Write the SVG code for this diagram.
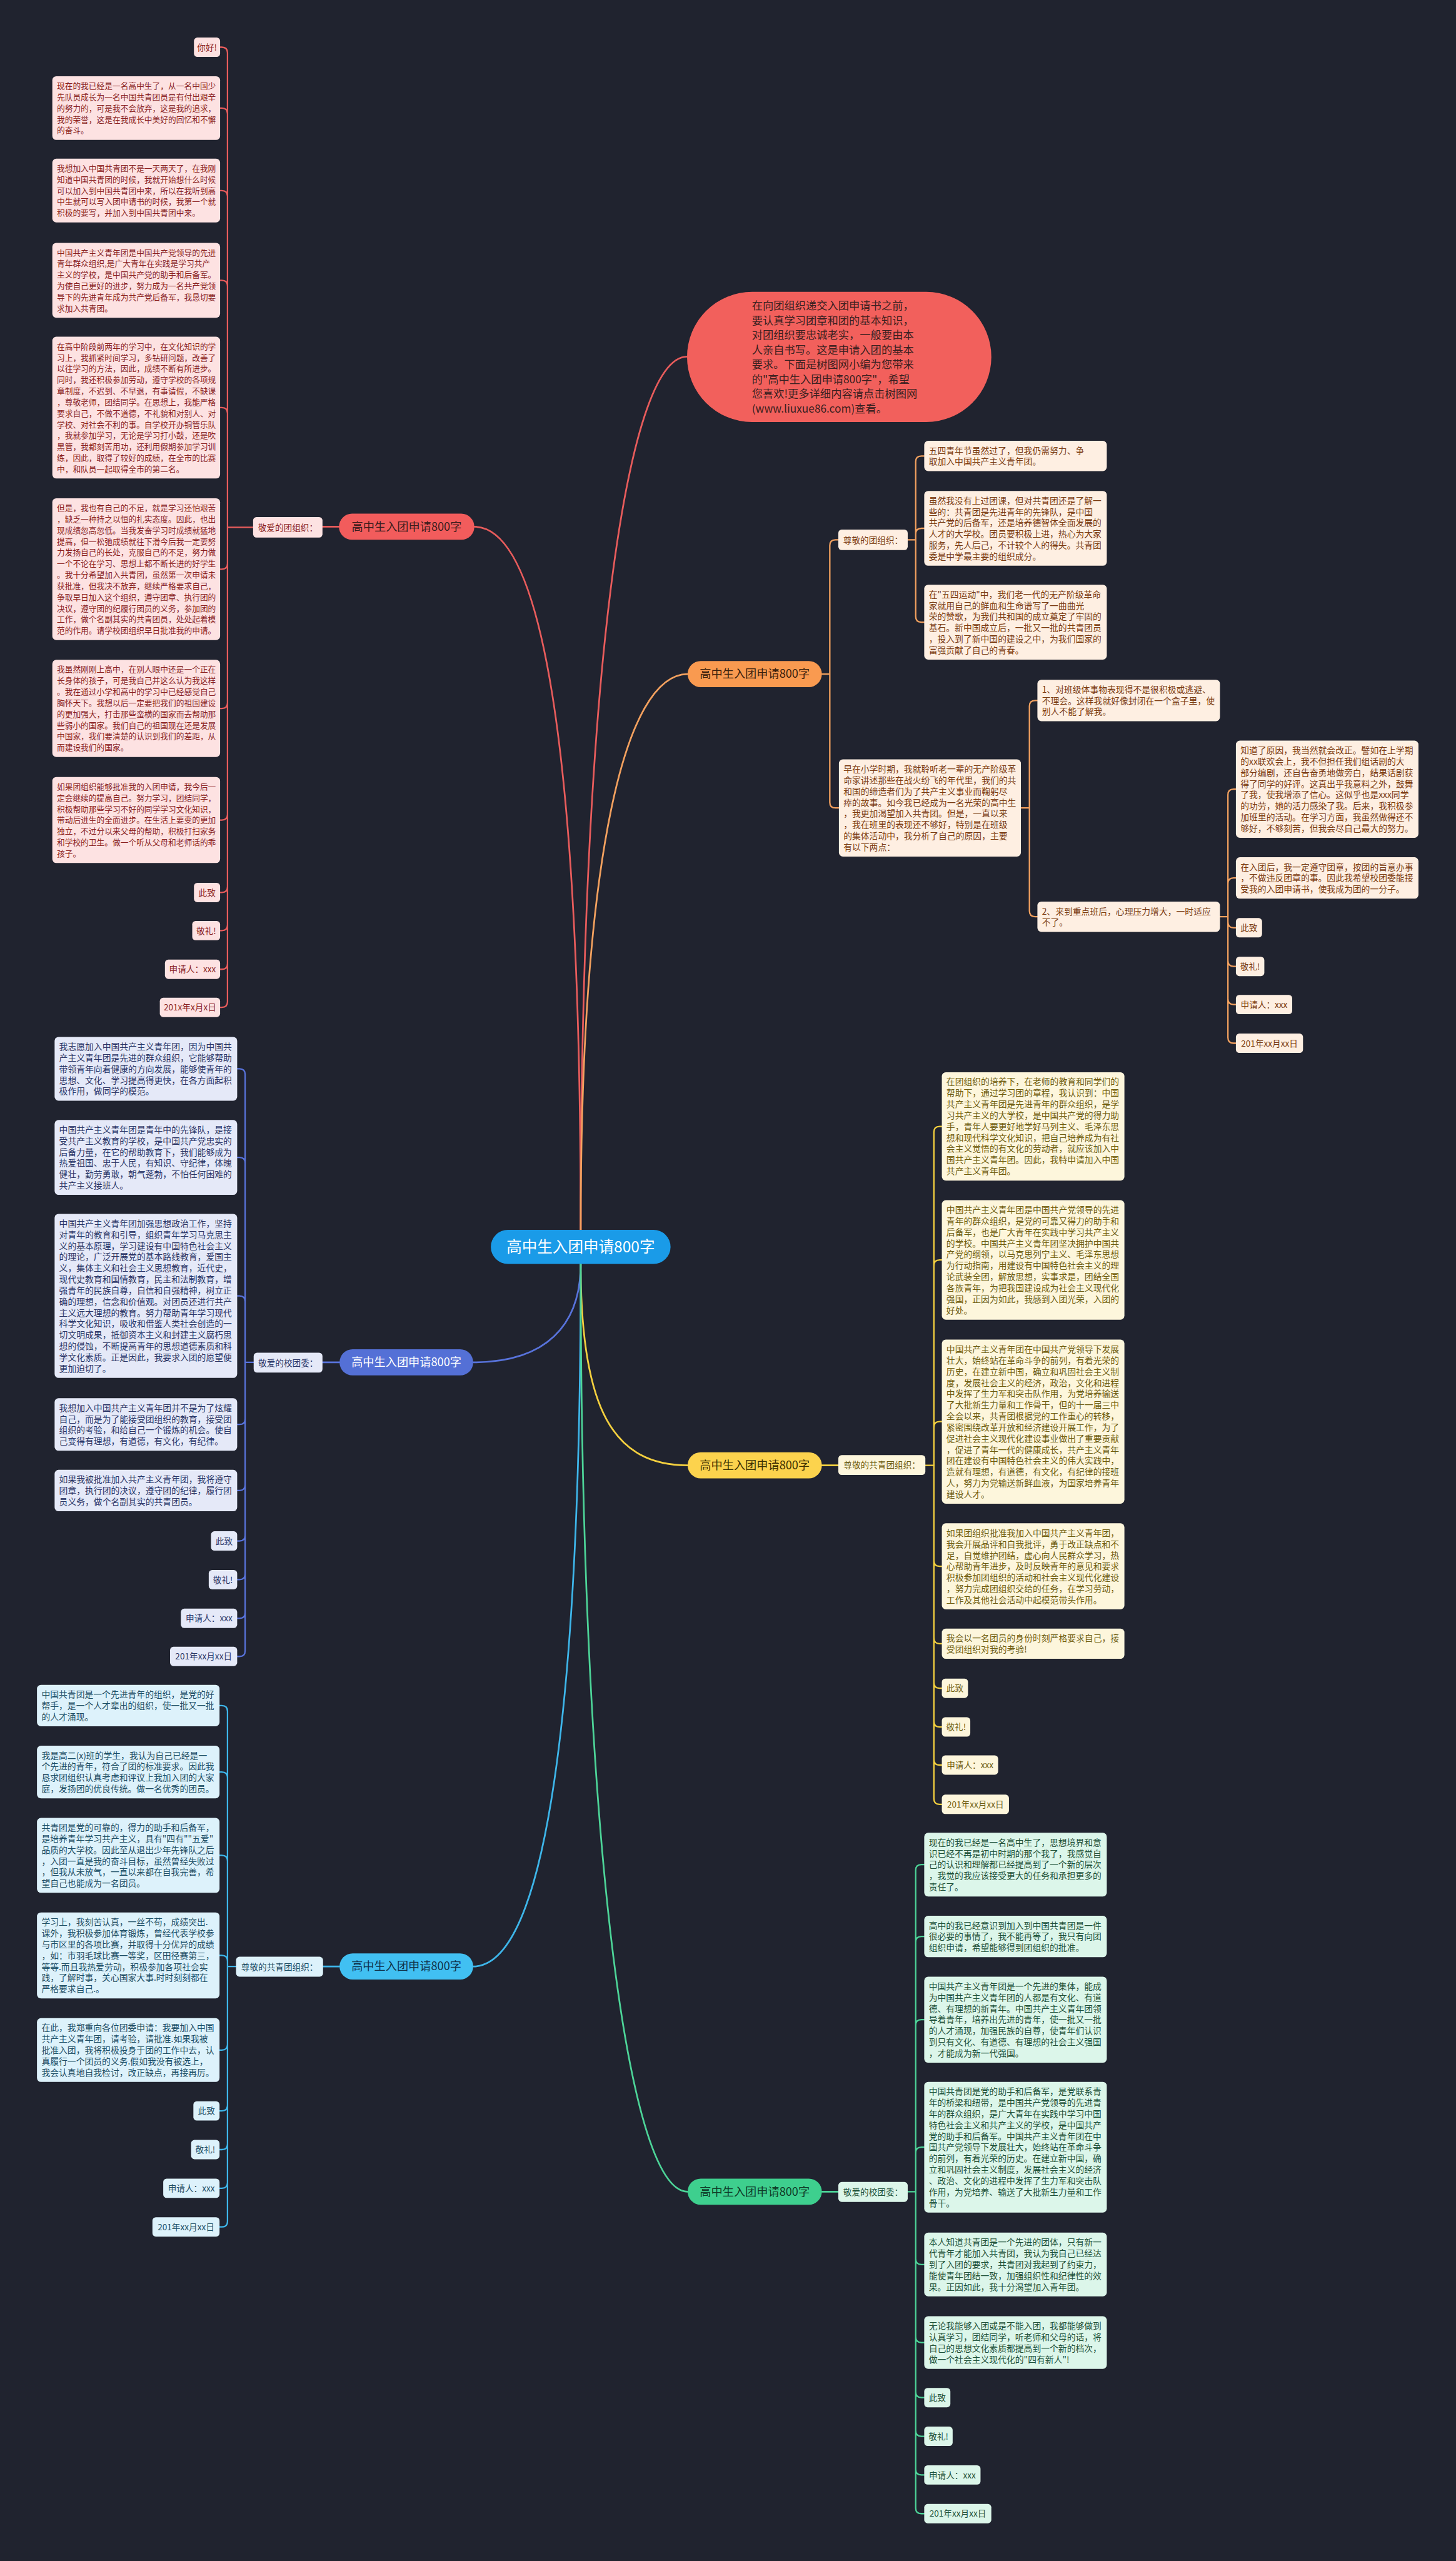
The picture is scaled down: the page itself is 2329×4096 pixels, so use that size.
<svg xmlns="http://www.w3.org/2000/svg" width="2329" height="4096" viewBox="0 0 2329 4096">
<style>
.t{font-family:"Noto Sans CJK SC","Noto Sans",sans-serif}
.p{font-size:15.2px}
.pr{font-size:14px}
.s{font-size:15px}
.m{text-anchor:middle}
.pl{font-size:20px;text-anchor:middle}
.ln{fill:none;stroke-width:2.5;stroke-linecap:round;stroke-linejoin:round}
.l1{fill:none;stroke-width:3;stroke-linecap:round}
.rf{fill:#fde2e2}.rt{fill:#8a1f1f}.rs{stroke:#e85c5c}
.of{fill:#feefe2}.ot{fill:#7a3a10}.os{stroke:#f3a15f}
.bf{fill:#e5e9f8}.bt{fill:#2a3566}.bs{stroke:#5873db}
.yf{fill:#fdf6dc}.yt{fill:#6e5c0e}.ys{stroke:#f4d03f}
.cf{fill:#ddf2fb}.ct{fill:#1c4d64}.cs{stroke:#3eb6ea}
.gf{fill:#dcf6ea}.gt{fill:#1d5038}.gs{stroke:#4dd498}
</style>
<rect x="0" y="0" width="2329" height="4096" fill="#20232f"/>
<g transform="scale(0.909766)">
<g id="connectors">
<path class="l1 rs" d="M1021 2162C1021 1200 1100 627 1208 627"/>
<path class="l1 rs" d="M1021 2162C1021 1300 950 926 834 926M596 926H567"/>
<path class="l1 os" d="M1021 2162C1021 1500 1100 1185 1209 1185"/>
<path class="l1 bs" d="M1021 2222C1021 2330 960 2395 832 2395M597 2395H567"/>
<path class="l1 ys" d="M1021 2222C1021 2480 1080 2576 1209 2576M1445 2576H1474"/>
<path class="l1 cs" d="M1021 2222C1021 3000 960 3457 832 3457M597 3457H568"/>
<path class="l1 gs" d="M1021 2222C1021 3200 1100 3853 1209 3853M1445 3853H1474"/>
<path class="ln rs" d="M445 927H400V93Q400 83 390 83H387M400 927V200Q400 190 390 190H387M400 927V345Q400 335 390 335H387M400 927V502.8Q400 492.8 390 492.8H387M400 927V726.6Q400 716.6 390 716.6H387M400 927V990.6Q400 1000.6 390 1000.6H387M400 927V1235.4Q400 1245.4 390 1245.4H387M400 927V1431.6Q400 1441.6 390 1441.6H387M400 927V1559Q400 1569 390 1569H387M400 927V1626Q400 1636 390 1636H387M400 927V1694Q400 1704 390 1704H387M400 927V1761Q400 1771 390 1771H387"/>
<path class="ln bs" d="M446 2395H431V1889Q431 1879 421 1879H417M431 2395V2044.8Q431 2034.8 421 2034.8H417M431 2395V2288.2Q431 2278.2 421 2278.2H417M431 2395V2494.2Q431 2504.2 421 2504.2H417M431 2395V2610.4Q431 2620.4 421 2620.4H417M431 2395V2699Q431 2709 421 2709H417M431 2395V2767Q431 2777 421 2777H417M431 2395V2835Q431 2845 421 2845H417M431 2395V2902Q431 2912 421 2912H417"/>
<path class="ln cs" d="M415 3457H400V3008.4Q400 2998.4 390 2998.4H386M400 3457V3125.2Q400 3115.2 390 3115.2H386M400 3457V3271.8Q400 3261.8 390 3261.8H386M400 3457V3447.6Q400 3437.6 390 3437.6H386M400 3457V3594Q400 3604 390 3604H386M400 3457V3701Q400 3711 390 3711H386M400 3457V3769Q400 3779 390 3779H386M400 3457V3837Q400 3847 390 3847H386M400 3457V3905Q400 3915 390 3915H386"/>
<path class="ln ys" d="M1627 2576H1642V1990.2Q1642 1980.2 1652 1980.2H1656M1642 2576V2225Q1642 2215 1652 2215H1656M1642 2576V2509.2Q1642 2499.2 1652 2499.2H1656M1642 2576V2743.6Q1642 2753.6 1652 2753.6H1656M1642 2576V2879.6Q1642 2889.6 1652 2889.6H1656M1642 2576V2958Q1642 2968 1652 2968H1656M1642 2576V3026Q1642 3036 1652 3036H1656M1642 2576V3093Q1642 3103 1652 3103H1656M1642 2576V3162Q1642 3172 1652 3172H1656"/>
<path class="ln gs" d="M1596 3853H1610V3288Q1610 3278 1620 3278H1625M1610 3853V3414.4Q1610 3404.4 1620 3404.4H1625M1610 3853V3560.6Q1610 3550.6 1620 3550.6H1625M1610 3853V3784.8Q1610 3774.8 1620 3774.8H1625M1610 3853V3971Q1610 3981 1620 3981H1625M1610 3853V4108.2Q1610 4118.2 1620 4118.2H1625M1610 3853V4205Q1610 4215 1620 4215H1625M1610 3853V4273Q1610 4283 1620 4283H1625M1610 3853V4341Q1610 4351 1620 4351H1625M1610 3853V4409Q1610 4419 1620 4419H1625"/>
<path class="ln os" d="M1445 1185H1459V959Q1459 949 1469 949H1474M1459 1185V1410.4Q1459 1420.4 1469 1420.4H1475M1596 949H1610V811.6Q1610 801.6 1620 801.6H1625M1610 949V938.8Q1610 928.8 1620 928.8H1625M1610 949V1083.8Q1610 1093.8 1620 1093.8H1625M1795 1420.4H1810V1241.4Q1810 1231.4 1820 1231.4H1824M1810 1420.4V1601.6Q1810 1611.6 1820 1611.6H1824M2145 1611.6H2159V1397.4Q2159 1387.4 2169 1387.4H2173M2159 1611.6V1553.4Q2159 1543.4 2169 1543.4H2173M2159 1611.6V1621Q2159 1631 2169 1631H2173M2159 1611.6V1689Q2159 1699 2169 1699H2173M2159 1611.6V1756Q2159 1766 2169 1766H2173M2159 1611.6V1824Q2159 1834 2169 1834H2173"/>
</g>

<g id="central"><rect x="863" y="2162" width="316" height="60" rx="30" fill="#1a9be8"/><text class="t m" x="1021" y="2202" font-size="27" fill="#ffffff">高中生入团申请800字</text></g>

<g id="intro"><rect x="1208" y="513" width="535" height="229" rx="114.5" fill="#f2605c"/>
<text class="t" x="1322" y="544.2" font-size="19" fill="#3a2020"><tspan x="1322">在向团组织递交入团申请书之前，</tspan><tspan x="1322" dy="25.9">要认真学习团章和团的基本知识，</tspan><tspan x="1322" dy="25.9">对团组织要忠诚老实，一般要由本</tspan><tspan x="1322" dy="25.9">人亲自书写。这是申请入团的基本</tspan><tspan x="1322" dy="25.9">要求。下面是树图网小编为您带来</tspan><tspan x="1322" dy="25.9">的"高中生入团申请800字"，希望</tspan><tspan x="1322" dy="25.9">您喜欢!更多详细内容请点击树图网</tspan><tspan x="1322" dy="25.9">(www.liuxue86.com)查看。</tspan></text></g>

<!-- RED BRANCH -->
<g id="red-main"><rect x="596" y="903" width="238" height="46" rx="23" fill="#f25c5c"/><text class="t pl" x="715" y="933" fill="#3a1c1c">高中生入团申请800字</text></g>
<g id="red-label"><rect class="rf" x="445" y="909" width="122" height="36" rx="6"/><text class="t s m rt" x="506" y="932.7">敬爱的团组织：</text></g>
<g id="red-1"><rect class="rf" x="341" y="66" width="46" height="34" rx="6"/><text class="t s m rt" x="364" y="88.7">你好!</text></g>
<g id="red-2"><rect class="rf" x="92" y="134" width="295" height="112" rx="7"/><text class="t pr rt" x="100" y="156.1"><tspan x="100">现在的我已经是一名高中生了，从一名中国少</tspan><tspan x="100" dy="19.6">先队员成长为一名中国共青团员是有付出艰辛</tspan><tspan x="100" dy="19.6">的努力的，可是我不会放弃，这是我的追求，</tspan><tspan x="100" dy="19.6">我的荣誉，这是在我成长中美好的回忆和不懈</tspan><tspan x="100" dy="19.6">的奋斗。</tspan></text></g>
<g id="red-3"><rect class="rf" x="92" y="279" width="295" height="112" rx="7"/><text class="t pr rt" x="100" y="301.1"><tspan x="100">我想加入中国共青团不是一天两天了，在我刚</tspan><tspan x="100" dy="19.6">知道中国共青团的时候，我就开始想什么时候</tspan><tspan x="100" dy="19.6">可以加入到中国共青团中来，所以在我听到高</tspan><tspan x="100" dy="19.6">中生就可以写入团申请书的时候，我第一个就</tspan><tspan x="100" dy="19.6">积极的要写，并加入到中国共青团中来。</tspan></text></g>
<g id="red-4"><rect class="rf" x="92" y="427" width="295" height="131.6" rx="7"/><text class="t pr rt" x="100" y="449.1"><tspan x="100">中国共产主义青年团是中国共产党领导的先进</tspan><tspan x="100" dy="19.6">青年群众组织,是广大青年在实践是学习共产</tspan><tspan x="100" dy="19.6">主义的学校，是中国共产党的助手和后备军。</tspan><tspan x="100" dy="19.6">为使自己更好的进步，努力成为一名共产党领</tspan><tspan x="100" dy="19.6">导下的先进青年成为共产党后备军，我恳切要</tspan><tspan x="100" dy="19.6">求加入共青团。</tspan></text></g>
<g id="red-5"><rect class="rf" x="92" y="592" width="295" height="249.2" rx="7"/><text class="t pr rt" x="100" y="614.1"><tspan x="100">在高中阶段前两年的学习中，在文化知识的学</tspan><tspan x="100" dy="19.6">习上，我抓紧时间学习，多钻研问题，改善了</tspan><tspan x="100" dy="19.6">以往学习的方法，因此，成绩不断有所进步。</tspan><tspan x="100" dy="19.6">同时，我还积极参加劳动，遵守学校的各项规</tspan><tspan x="100" dy="19.6">章制度，不迟到、不早退，有事请假，不缺课</tspan><tspan x="100" dy="19.6">，尊敬老师，团结同学。在思想上，我能严格</tspan><tspan x="100" dy="19.6">要求自己，不做不道德，不礼貌和对别人、对</tspan><tspan x="100" dy="19.6">学校、对社会不利的事。自学校开办铜管乐队</tspan><tspan x="100" dy="19.6">，我就参加学习，无论是学习打小鼓，还是吹</tspan><tspan x="100" dy="19.6">黑管，我都刻苦用功，还利用假期参加学习训</tspan><tspan x="100" dy="19.6">练，因此，取得了较好的成绩，在全市的比赛</tspan><tspan x="100" dy="19.6">中，和队员一起取得全市的第二名。</tspan></text></g>
<g id="red-6"><rect class="rf" x="92" y="876" width="295" height="249.2" rx="7"/><text class="t pr rt" x="100" y="898.1"><tspan x="100">但是，我也有自己的不足，就是学习还怕艰苦</tspan><tspan x="100" dy="19.6">，缺乏一种持之以恒的扎实态度。因此，也出</tspan><tspan x="100" dy="19.6">现成绩忽高忽低。当我发奋学习时成绩就猛地</tspan><tspan x="100" dy="19.6">提高，但一松弛成绩就往下滑今后我一定要努</tspan><tspan x="100" dy="19.6">力发扬自己的长处，克服自己的不足，努力做</tspan><tspan x="100" dy="19.6">一个不论在学习、思想上都不断长进的好学生</tspan><tspan x="100" dy="19.6">。我十分希望加入共青团，虽然第一次申请未</tspan><tspan x="100" dy="19.6">获批准，但我决不放弃，继续严格要求自己，</tspan><tspan x="100" dy="19.6">争取早日加入这个组织，遵守团章、执行团的</tspan><tspan x="100" dy="19.6">决议，遵守团的纪履行团员的义务，参加团的</tspan><tspan x="100" dy="19.6">工作，做个名副其实的共青团员，处处起着模</tspan><tspan x="100" dy="19.6">范的作用。请学校团组织早日批准我的申请。</tspan></text></g>
<g id="red-7"><rect class="rf" x="92" y="1160" width="295" height="170.8" rx="7"/><text class="t pr rt" x="100" y="1182.1"><tspan x="100">我虽然刚刚上高中，在别人眼中还是一个正在</tspan><tspan x="100" dy="19.6">长身体的孩子，可是我自己并这么认为我这样</tspan><tspan x="100" dy="19.6">。我在通过小学和高中的学习中已经感觉自己</tspan><tspan x="100" dy="19.6">胸怀天下。我想以后一定要把我们的祖国建设</tspan><tspan x="100" dy="19.6">的更加强大，打击那些蛮横的国家而去帮助那</tspan><tspan x="100" dy="19.6">些弱小的国家。我们自己的祖国现在还是发展</tspan><tspan x="100" dy="19.6">中国家，我们要清楚的认识到我们的差距，从</tspan><tspan x="100" dy="19.6">而建设我们的国家。</tspan></text></g>
<g id="red-8"><rect class="rf" x="92" y="1366" width="295" height="151.2" rx="7"/><text class="t pr rt" x="100" y="1388.1"><tspan x="100">如果团组织能够批准我的入团申请，我今后一</tspan><tspan x="100" dy="19.6">定会继续的提高自己。努力学习，团结同学，</tspan><tspan x="100" dy="19.6">积极帮助那些学习不好的同学学习文化知识，</tspan><tspan x="100" dy="19.6">带动后进生的全面进步。在生活上要变的更加</tspan><tspan x="100" dy="19.6">独立，不过分以来父母的帮助，积极打扫家务</tspan><tspan x="100" dy="19.6">和学校的卫生。做一个听从父母和老师话的乖</tspan><tspan x="100" dy="19.6">孩子。</tspan></text></g>
<g id="red-9"><rect class="rf" x="341" y="1552" width="46" height="34" rx="6"/><text class="t s m rt" x="364" y="1574.7">此致</text></g>
<g id="red-10"><rect class="rf" x="338" y="1619" width="49" height="34" rx="6"/><text class="t s m rt" x="362.5" y="1641.7">敬礼!</text></g>
<g id="red-11"><rect class="rf" x="290" y="1687" width="97" height="34" rx="6"/><text class="t s m rt" x="338.5" y="1709.7">申请人：xxx</text></g>
<g id="red-12"><rect class="rf" x="281" y="1754" width="106" height="34" rx="6"/><text class="t s m rt" x="334" y="1776.7">201x年x月x日</text></g>

<!-- ORANGE BRANCH -->
<g id="orange-main"><rect x="1209" y="1162" width="236" height="46" rx="23" fill="#f99a50"/><text class="t pl" x="1327" y="1192" fill="#3a200c">高中生入团申请800字</text></g>
<g id="orange-label"><rect class="of" x="1474" y="931" width="122" height="36" rx="6"/><text class="t s m ot" x="1535" y="954.7">尊敬的团组织：</text></g>
<g id="orange-1"><rect class="of" x="1625" y="775" width="321" height="53.2" rx="7"/><text class="t p ot" x="1633" y="797.6"><tspan x="1633">五四青年节虽然过了，但我仍需努力、争</tspan><tspan x="1633" dy="19.6">取加入中国共产主义青年团。</tspan></text></g>
<g id="orange-2"><rect class="of" x="1625" y="863" width="321" height="131.6" rx="7"/><text class="t p ot" x="1633" y="885.6"><tspan x="1633">虽然我没有上过团课，但对共青团还是了解一</tspan><tspan x="1633" dy="19.6">些的：共青团是先进青年的先锋队，是中国</tspan><tspan x="1633" dy="19.6">共产党的后备军，还是培养德智体全面发展的</tspan><tspan x="1633" dy="19.6">人才的大学校。团员要积极上进，热心为大家</tspan><tspan x="1633" dy="19.6">服务，先人后己，不计较个人的得失。共青团</tspan><tspan x="1633" dy="19.6">委是中学最主要的组织成分。</tspan></text></g>
<g id="orange-3"><rect class="of" x="1625" y="1028" width="321" height="131.6" rx="7"/><text class="t p ot" x="1633" y="1050.6"><tspan x="1633">在"五四运动"中，我们老一代的无产阶级革命</tspan><tspan x="1633" dy="19.6">家就用自己的鲜血和生命谱写了一曲曲光</tspan><tspan x="1633" dy="19.6">荣的赞歌，为我们共和国的成立奠定了牢固的</tspan><tspan x="1633" dy="19.6">基石。新中国成立后，一批又一批的共青团员</tspan><tspan x="1633" dy="19.6">，投入到了新中国的建设之中，为我们国家的</tspan><tspan x="1633" dy="19.6">富强贡献了自己的青春。</tspan></text></g>
<g id="orange-4"><rect class="of" x="1475" y="1335" width="320" height="170.8" rx="7"/><text class="t p ot" x="1483" y="1357.6"><tspan x="1483">早在小学时期，我就聆听老一辈的无产阶级革</tspan><tspan x="1483" dy="19.6">命家讲述那些在战火纷飞的年代里，我们的共</tspan><tspan x="1483" dy="19.6">和国的缔造者们为了共产主义事业而鞠躬尽</tspan><tspan x="1483" dy="19.6">瘁的故事。如今我已经成为一名光荣的高中生</tspan><tspan x="1483" dy="19.6">，我更加渴望加入共青团。但是，一直以来</tspan><tspan x="1483" dy="19.6">，我在班里的表现还不够好，特别是在班级</tspan><tspan x="1483" dy="19.6">的集体活动中，我分析了自己的原因，主要</tspan><tspan x="1483" dy="19.6">有以下两点：</tspan></text></g>
<g id="orange-5"><rect class="of" x="1824" y="1195" width="321" height="72.8" rx="7"/><text class="t p ot" x="1832" y="1217.6"><tspan x="1832">1、对班级体事物表现得不是很积极或逃避、</tspan><tspan x="1832" dy="19.6">不理会。这样我就好像封闭在一个盒子里，使</tspan><tspan x="1832" dy="19.6">别人不能了解我。</tspan></text></g>
<g id="orange-6"><rect class="of" x="1824" y="1585" width="321" height="53.2" rx="7"/><text class="t p ot" x="1832" y="1607.6"><tspan x="1832">2、来到重点班后，心理压力增大，一时适应</tspan><tspan x="1832" dy="19.6">不了。</tspan></text></g>
<g id="orange-7"><rect class="of" x="2173" y="1302" width="321" height="170.8" rx="7"/><text class="t p ot" x="2181" y="1324.6"><tspan x="2181">知道了原因，我当然就会改正。譬如在上学期</tspan><tspan x="2181" dy="19.6">的xx联欢会上，我不但担任我们组话剧的大</tspan><tspan x="2181" dy="19.6">部分编剧，还自告奋勇地做旁白，结果话剧获</tspan><tspan x="2181" dy="19.6">得了同学的好评。这真出乎我意料之外，鼓舞</tspan><tspan x="2181" dy="19.6">了我，使我增添了信心。这似乎也是xxx同学</tspan><tspan x="2181" dy="19.6">的功劳，她的活力感染了我。后来，我积极参</tspan><tspan x="2181" dy="19.6">加班里的活动。在学习方面，我虽然做得还不</tspan><tspan x="2181" dy="19.6">够好，不够刻苦，但我会尽自己最大的努力。</tspan></text></g>
<g id="orange-8"><rect class="of" x="2173" y="1507" width="321" height="72.8" rx="7"/><text class="t p ot" x="2181" y="1529.6"><tspan x="2181">在入团后，我一定遵守团章，按团的旨意办事</tspan><tspan x="2181" dy="19.6">，不做违反团章的事。因此我希望校团委能接</tspan><tspan x="2181" dy="19.6">受我的入团申请书，使我成为团的一分子。</tspan></text></g>
<g id="orange-9"><rect class="of" x="2173" y="1614" width="46" height="34" rx="6"/><text class="t s m ot" x="2196" y="1636.7">此致</text></g>
<g id="orange-10"><rect class="of" x="2173" y="1682" width="50" height="34" rx="6"/><text class="t s m ot" x="2198" y="1704.7">敬礼!</text></g>
<g id="orange-11"><rect class="of" x="2173" y="1749" width="99" height="34" rx="6"/><text class="t s m ot" x="2222.5" y="1771.7">申请人：xxx</text></g>
<g id="orange-12"><rect class="of" x="2173" y="1817" width="118" height="34" rx="6"/><text class="t s m ot" x="2232" y="1839.7">201年xx月xx日</text></g>

<!-- BLUE BRANCH -->
<g id="blue-main"><rect x="597" y="2372" width="235" height="46" rx="23" fill="#5470d6"/><text class="t pl" x="714.5" y="2402" fill="#ffffff">高中生入团申请800字</text></g>
<g id="blue-label"><rect class="bf" x="446" y="2378" width="121" height="35" rx="6"/><text class="t s m bt" x="506.5" y="2401.2">敬爱的校团委：</text></g>
<g id="blue-1"><rect class="bf" x="96" y="1823" width="321" height="112" rx="7"/><text class="t p bt" x="104" y="1845.6"><tspan x="104">我志愿加入中国共产主义青年团，因为中国共</tspan><tspan x="104" dy="19.6">产主义青年团是先进的群众组织，它能够帮助</tspan><tspan x="104" dy="19.6">带领青年向着健康的方向发展，能够使青年的</tspan><tspan x="104" dy="19.6">思想、文化、学习提高得更快，在各方面起积</tspan><tspan x="104" dy="19.6">极作用，做同学的模范。</tspan></text></g>
<g id="blue-2"><rect class="bf" x="96" y="1969" width="321" height="131.6" rx="7"/><text class="t p bt" x="104" y="1991.6"><tspan x="104">中国共产主义青年团是青年中的先锋队，是接</tspan><tspan x="104" dy="19.6">受共产主义教育的学校，是中国共产党忠实的</tspan><tspan x="104" dy="19.6">后备力量，在它的帮助教育下，我们能够成为</tspan><tspan x="104" dy="19.6">热爱祖国、忠于人民，有知识、守纪律，体魄</tspan><tspan x="104" dy="19.6">健壮，勤劳勇敢，朝气蓬勃，不怕任何困难的</tspan><tspan x="104" dy="19.6">共产主义接班人。</tspan></text></g>
<g id="blue-3"><rect class="bf" x="96" y="2134" width="321" height="288.4" rx="7"/><text class="t p bt" x="104" y="2156.6"><tspan x="104">中国共产主义青年团加强思想政治工作，坚持</tspan><tspan x="104" dy="19.6">对青年的教育和引导，组织青年学习马克思主</tspan><tspan x="104" dy="19.6">义的基本原理，学习建设有中国特色社会主义</tspan><tspan x="104" dy="19.6">的理论，广泛开展党的基本路线教育，爱国主</tspan><tspan x="104" dy="19.6">义，集体主义和社会主义思想教育，近代史，</tspan><tspan x="104" dy="19.6">现代史教育和国情教育，民主和法制教育，增</tspan><tspan x="104" dy="19.6">强青年的民族自尊，自信和自强精神，树立正</tspan><tspan x="104" dy="19.6">确的理想，信念和价值观。对团员还进行共产</tspan><tspan x="104" dy="19.6">主义远大理想的教育。努力帮助青年学习现代</tspan><tspan x="104" dy="19.6">科学文化知识，吸收和借鉴人类社会创造的一</tspan><tspan x="104" dy="19.6">切文明成果，抵御资本主义和封建主义腐朽思</tspan><tspan x="104" dy="19.6">想的侵蚀，不断提高青年的思想道德素质和科</tspan><tspan x="104" dy="19.6">学文化素质。正是因此，我要求入团的愿望便</tspan><tspan x="104" dy="19.6">更加迫切了。</tspan></text></g>
<g id="blue-4"><rect class="bf" x="96" y="2458" width="321" height="92.4" rx="7"/><text class="t p bt" x="104" y="2480.6"><tspan x="104">我想加入中国共产主义青年团并不是为了炫耀</tspan><tspan x="104" dy="19.6">自己，而是为了能接受团组织的教育，接受团</tspan><tspan x="104" dy="19.6">组织的考验，和给自己一个锻炼的机会。使自</tspan><tspan x="104" dy="19.6">己变得有理想，有道德，有文化，有纪律。</tspan></text></g>
<g id="blue-5"><rect class="bf" x="96" y="2584" width="321" height="72.8" rx="7"/><text class="t p bt" x="104" y="2606.6"><tspan x="104">如果我被批准加入共产主义青年团，我将遵守</tspan><tspan x="104" dy="19.6">团章，执行团的决议，遵守团的纪律，履行团</tspan><tspan x="104" dy="19.6">员义务，做个名副其实的共青团员。</tspan></text></g>
<g id="blue-6"><rect class="bf" x="371" y="2692" width="46" height="34" rx="6"/><text class="t s m bt" x="394" y="2714.7">此致</text></g>
<g id="blue-7"><rect class="bf" x="367" y="2760" width="50" height="34" rx="6"/><text class="t s m bt" x="392" y="2782.7">敬礼!</text></g>
<g id="blue-8"><rect class="bf" x="318" y="2828" width="99" height="34" rx="6"/><text class="t s m bt" x="367.5" y="2850.7">申请人：xxx</text></g>
<g id="blue-9"><rect class="bf" x="299" y="2895" width="118" height="34" rx="6"/><text class="t s m bt" x="358" y="2917.7">201年xx月xx日</text></g>

<!-- YELLOW BRANCH -->
<g id="yellow-main"><rect x="1209" y="2553" width="236" height="46" rx="23" fill="#fcd34d"/><text class="t pl" x="1327" y="2583" fill="#3d3000">高中生入团申请800字</text></g>
<g id="yellow-label"><rect class="yf" x="1474" y="2558" width="153" height="35" rx="6"/><text class="t s m yt" x="1550.5" y="2581.2">尊敬的共青团组织：</text></g>
<g id="yellow-1"><rect class="yf" x="1656" y="1885" width="321" height="190.4" rx="7"/><text class="t p yt" x="1664" y="1907.6"><tspan x="1664">在团组织的培养下，在老师的教育和同学们的</tspan><tspan x="1664" dy="19.6">帮助下，通过学习团的章程，我认识到：中国</tspan><tspan x="1664" dy="19.6">共产主义青年团是先进青年的群众组织，是学</tspan><tspan x="1664" dy="19.6">习共产主义的大学校，是中国共产党的得力助</tspan><tspan x="1664" dy="19.6">手，青年人要更好地学好马列主义、毛泽东思</tspan><tspan x="1664" dy="19.6">想和现代科学文化知识，把自己培养成为有社</tspan><tspan x="1664" dy="19.6">会主义觉悟的有文化的劳动者，就应该加入中</tspan><tspan x="1664" dy="19.6">国共产主义青年团。因此，我特申请加入中国</tspan><tspan x="1664" dy="19.6">共产主义青年团。</tspan></text></g>
<g id="yellow-2"><rect class="yf" x="1656" y="2110" width="321" height="210" rx="7"/><text class="t p yt" x="1664" y="2132.6"><tspan x="1664">中国共产主义青年团是中国共产党领导的先进</tspan><tspan x="1664" dy="19.6">青年的群众组织，是党的可靠又得力的助手和</tspan><tspan x="1664" dy="19.6">后备军，也是广大青年在实践中学习共产主义</tspan><tspan x="1664" dy="19.6">的学校。中国共产主义青年团坚决拥护中国共</tspan><tspan x="1664" dy="19.6">产党的纲领，以马克思列宁主义、毛泽东思想</tspan><tspan x="1664" dy="19.6">为行动指南，用建设有中国特色社会主义的理</tspan><tspan x="1664" dy="19.6">论武装全团，解放思想，实事求是，团结全国</tspan><tspan x="1664" dy="19.6">各族青年，为把我国建设成为社会主义现代化</tspan><tspan x="1664" dy="19.6">强国，正因为如此，我感到入团光荣，入团的</tspan><tspan x="1664" dy="19.6">好处。</tspan></text></g>
<g id="yellow-3"><rect class="yf" x="1656" y="2355" width="321" height="288.4" rx="7"/><text class="t p yt" x="1664" y="2377.6"><tspan x="1664">中国共产主义青年团在中国共产党领导下发展</tspan><tspan x="1664" dy="19.6">壮大，始终站在革命斗争的前列，有着光荣的</tspan><tspan x="1664" dy="19.6">历史，在建立新中国，确立和巩固社会主义制</tspan><tspan x="1664" dy="19.6">度，发展社会主义的经济，政治，文化和进程</tspan><tspan x="1664" dy="19.6">中发挥了生力军和突击队作用，为党培养输送</tspan><tspan x="1664" dy="19.6">了大批新生力量和工作骨干，但的十一届三中</tspan><tspan x="1664" dy="19.6">全会以来，共青团根据党的工作重心的转移，</tspan><tspan x="1664" dy="19.6">紧密围绕改革开放和经济建设开展工作，为了</tspan><tspan x="1664" dy="19.6">促进社会主义现代化建设事业做出了重要贡献</tspan><tspan x="1664" dy="19.6">，促进了青年一代的健康成长，共产主义青年</tspan><tspan x="1664" dy="19.6">团在建设有中国特色社会主义的伟大实践中，</tspan><tspan x="1664" dy="19.6">造就有理想，有道德，有文化，有纪律的接班</tspan><tspan x="1664" dy="19.6">人，努力为党输送新鲜血液，为国家培养青年</tspan><tspan x="1664" dy="19.6">建设人才。</tspan></text></g>
<g id="yellow-4"><rect class="yf" x="1656" y="2678" width="321" height="151.2" rx="7"/><text class="t p yt" x="1664" y="2700.6"><tspan x="1664">如果团组织批准我加入中国共产主义青年团，</tspan><tspan x="1664" dy="19.6">我会开展品评和自我批评，勇于改正缺点和不</tspan><tspan x="1664" dy="19.6">足，自觉维护团结，虚心向人民群众学习，热</tspan><tspan x="1664" dy="19.6">心帮助青年进步，及时反映青年的意见和要求</tspan><tspan x="1664" dy="19.6">积极参加团组织的活动和社会主义现代化建设</tspan><tspan x="1664" dy="19.6">，努力完成团组织交给的任务，在学习劳动，</tspan><tspan x="1664" dy="19.6">工作及其他社会活动中起模范带头作用。</tspan></text></g>
<g id="yellow-5"><rect class="yf" x="1656" y="2863" width="321" height="53.2" rx="7"/><text class="t p yt" x="1664" y="2885.6"><tspan x="1664">我会以一名团员的身份时刻严格要求自己，接</tspan><tspan x="1664" dy="19.6">受团组织对我的考验!</tspan></text></g>
<g id="yellow-6"><rect class="yf" x="1656" y="2951" width="46" height="34" rx="6"/><text class="t s m yt" x="1679" y="2973.7">此致</text></g>
<g id="yellow-7"><rect class="yf" x="1656" y="3019" width="50" height="34" rx="6"/><text class="t s m yt" x="1681" y="3041.7">敬礼!</text></g>
<g id="yellow-8"><rect class="yf" x="1656" y="3086" width="99" height="34" rx="6"/><text class="t s m yt" x="1705.5" y="3108.7">申请人：xxx</text></g>
<g id="yellow-9"><rect class="yf" x="1656" y="3155" width="118" height="34" rx="6"/><text class="t s m yt" x="1715" y="3177.7">201年xx月xx日</text></g>

<!-- CYAN BRANCH -->
<g id="cyan-main"><rect x="597" y="3434" width="235" height="46" rx="23" fill="#41c0f2"/><text class="t pl" x="714.5" y="3464" fill="#10324a">高中生入团申请800字</text></g>
<g id="cyan-label"><rect class="cf" x="415" y="3440" width="153" height="35" rx="6"/><text class="t s m ct" x="491.5" y="3463.2">尊敬的共青团组织：</text></g>
<g id="cyan-1"><rect class="cf" x="65" y="2962" width="321" height="72.8" rx="7"/><text class="t p ct" x="73" y="2984.6"><tspan x="73">中国共青团是一个先进青年的组织，是党的好</tspan><tspan x="73" dy="19.6">帮手，是一个人才辈出的组织，使一批又一批</tspan><tspan x="73" dy="19.6">的人才涌现。</tspan></text></g>
<g id="cyan-2"><rect class="cf" x="65" y="3069" width="321" height="92.4" rx="7"/><text class="t p ct" x="73" y="3091.6"><tspan x="73">我是高二(x)班的学生，我认为自己已经是一</tspan><tspan x="73" dy="19.6">个先进的青年，符合了团的标准要求。因此我</tspan><tspan x="73" dy="19.6">恳求团组织认真考虑和评议上我加入团的大家</tspan><tspan x="73" dy="19.6">庭，发扬团的优良传统。做一名优秀的团员。</tspan></text></g>
<g id="cyan-3"><rect class="cf" x="65" y="3196" width="321" height="131.6" rx="7"/><text class="t p ct" x="73" y="3218.6"><tspan x="73">共青团是党的可靠的，得力的助手和后备军，</tspan><tspan x="73" dy="19.6">是培养青年学习共产主义，具有"四有""五爱"</tspan><tspan x="73" dy="19.6">品质的大学校。因此至从退出少年先锋队之后</tspan><tspan x="73" dy="19.6">，入团一直是我的奋斗目标，虽然曾经失败过</tspan><tspan x="73" dy="19.6">，但我从未放气，一直以来都在自我完善，希</tspan><tspan x="73" dy="19.6">望自己也能成为一名团员。</tspan></text></g>
<g id="cyan-4"><rect class="cf" x="65" y="3362" width="321" height="151.2" rx="7"/><text class="t p ct" x="73" y="3384.6"><tspan x="73">学习上，我刻苦认真，一丝不苟，成绩突出.</tspan><tspan x="73" dy="19.6">课外，我积极参加体育锻炼，曾经代表学校参</tspan><tspan x="73" dy="19.6">与市区里的各项比赛，并取得十分优异的成绩</tspan><tspan x="73" dy="19.6">，如：市羽毛球比赛一等奖，区田径赛第三，</tspan><tspan x="73" dy="19.6">等等.而且我热爱劳动，积极参加各项社会实</tspan><tspan x="73" dy="19.6">践，了解时事，关心国家大事.时时刻刻都在</tspan><tspan x="73" dy="19.6">严格要求自己.。</tspan></text></g>
<g id="cyan-5"><rect class="cf" x="65" y="3548" width="321" height="112" rx="7"/><text class="t p ct" x="73" y="3570.6"><tspan x="73">在此，我郑重向各位团委申请：我要加入中国</tspan><tspan x="73" dy="19.6">共产主义青年团，请考验，请批准.如果我被</tspan><tspan x="73" dy="19.6">批准入团，我将积极投身于团的工作中去，认</tspan><tspan x="73" dy="19.6">真履行一个团员的义务.假如我没有被选上，</tspan><tspan x="73" dy="19.6">我会认真地自我检讨，改正缺点，再接再厉。</tspan></text></g>
<g id="cyan-6"><rect class="cf" x="340" y="3694" width="46" height="34" rx="6"/><text class="t s m ct" x="363" y="3716.7">此致</text></g>
<g id="cyan-7"><rect class="cf" x="336" y="3762" width="50" height="34" rx="6"/><text class="t s m ct" x="361" y="3784.7">敬礼!</text></g>
<g id="cyan-8"><rect class="cf" x="287" y="3830" width="99" height="34" rx="6"/><text class="t s m ct" x="336.5" y="3852.7">申请人：xxx</text></g>
<g id="cyan-9"><rect class="cf" x="268" y="3898" width="118" height="34" rx="6"/><text class="t s m ct" x="327" y="3920.7">201年xx月xx日</text></g>

<!-- GREEN BRANCH -->
<g id="green-main"><rect x="1209" y="3830" width="236" height="46" rx="23" fill="#3ecf8e"/><text class="t pl" x="1327" y="3860" fill="#0f3a26">高中生入团申请800字</text></g>
<g id="green-label"><rect class="gf" x="1474" y="3836" width="122" height="35" rx="6"/><text class="t s m gt" x="1535" y="3859.2">敬爱的校团委：</text></g>
<g id="green-1"><rect class="gf" x="1625" y="3222" width="321" height="112" rx="7"/><text class="t p gt" x="1633" y="3244.6"><tspan x="1633">现在的我已经是一名高中生了，思想境界和意</tspan><tspan x="1633" dy="19.6">识已经不再是初中时期的那个我了，我感觉自</tspan><tspan x="1633" dy="19.6">己的认识和理解都已经提高到了一个新的层次</tspan><tspan x="1633" dy="19.6">，我觉的我应该接受更大的任务和承担更多的</tspan><tspan x="1633" dy="19.6">责任了。</tspan></text></g>
<g id="green-2"><rect class="gf" x="1625" y="3368" width="321" height="72.8" rx="7"/><text class="t p gt" x="1633" y="3390.6"><tspan x="1633">高中的我已经意识到加入到中国共青团是一件</tspan><tspan x="1633" dy="19.6">很必要的事情了，我不能再等了，我只有向团</tspan><tspan x="1633" dy="19.6">组织申请，希望能够得到团组织的批准。</tspan></text></g>
<g id="green-3"><rect class="gf" x="1625" y="3475" width="321" height="151.2" rx="7"/><text class="t p gt" x="1633" y="3497.6"><tspan x="1633">中国共产主义青年团是一个先进的集体，能成</tspan><tspan x="1633" dy="19.6">为中国共产主义青年团的人都是有文化、有道</tspan><tspan x="1633" dy="19.6">德、有理想的新青年。中国共产主义青年团领</tspan><tspan x="1633" dy="19.6">导着青年，培养出先进的青年，使一批又一批</tspan><tspan x="1633" dy="19.6">的人才涌现，加强民族的自尊，使青年们认识</tspan><tspan x="1633" dy="19.6">到只有文化、有道德、有理想的社会主义强国</tspan><tspan x="1633" dy="19.6">，才能成为新一代强国。</tspan></text></g>
<g id="green-4"><rect class="gf" x="1625" y="3660" width="321" height="229.6" rx="7"/><text class="t p gt" x="1633" y="3682.6"><tspan x="1633">中国共青团是党的助手和后备军，是党联系青</tspan><tspan x="1633" dy="19.6">年的桥梁和纽带，是中国共产党领导的先进青</tspan><tspan x="1633" dy="19.6">年的群众组织，是广大青年在实践中学习中国</tspan><tspan x="1633" dy="19.6">特色社会主义和共产主义的学校，是中国共产</tspan><tspan x="1633" dy="19.6">党的助手和后备军。中国共产主义青年团在中</tspan><tspan x="1633" dy="19.6">国共产党领导下发展壮大，始终站在革命斗争</tspan><tspan x="1633" dy="19.6">的前列，有着光荣的历史。在建立新中国，确</tspan><tspan x="1633" dy="19.6">立和巩固社会主义制度，发展社会主义的经济</tspan><tspan x="1633" dy="19.6">、政治、文化的进程中发挥了生力军和突击队</tspan><tspan x="1633" dy="19.6">作用，为党培养、输送了大批新生力量和工作</tspan><tspan x="1633" dy="19.6">骨干。</tspan></text></g>
<g id="green-5"><rect class="gf" x="1625" y="3925" width="321" height="112" rx="7"/><text class="t p gt" x="1633" y="3947.6"><tspan x="1633">本人知道共青团是一个先进的团体，只有新一</tspan><tspan x="1633" dy="19.6">代青年才能加入共青团，我认为我自己已经达</tspan><tspan x="1633" dy="19.6">到了入团的要求，共青团对我起到了约束力，</tspan><tspan x="1633" dy="19.6">能使青年团结一致，加强组织性和纪律性的效</tspan><tspan x="1633" dy="19.6">果。正因如此，我十分渴望加入青年团。</tspan></text></g>
<g id="green-6"><rect class="gf" x="1625" y="4072" width="321" height="92.4" rx="7"/><text class="t p gt" x="1633" y="4094.6"><tspan x="1633">无论我能够入团或是不能入团，我都能够做到</tspan><tspan x="1633" dy="19.6">认真学习，团结同学，听老师和父母的话，将</tspan><tspan x="1633" dy="19.6">自己的思想文化素质都提高到一个新的档次，</tspan><tspan x="1633" dy="19.6">做一个社会主义现代化的"四有新人"!</tspan></text></g>
<g id="green-7"><rect class="gf" x="1625" y="4198" width="46" height="34" rx="6"/><text class="t s m gt" x="1648" y="4220.7">此致</text></g>
<g id="green-8"><rect class="gf" x="1625" y="4266" width="50" height="34" rx="6"/><text class="t s m gt" x="1650" y="4288.7">敬礼!</text></g>
<g id="green-9"><rect class="gf" x="1625" y="4334" width="99" height="34" rx="6"/><text class="t s m gt" x="1674.5" y="4356.7">申请人：xxx</text></g>
<g id="green-10"><rect class="gf" x="1625" y="4402" width="118" height="34" rx="6"/><text class="t s m gt" x="1684" y="4424.7">201年xx月xx日</text></g>
</g>
</svg>
